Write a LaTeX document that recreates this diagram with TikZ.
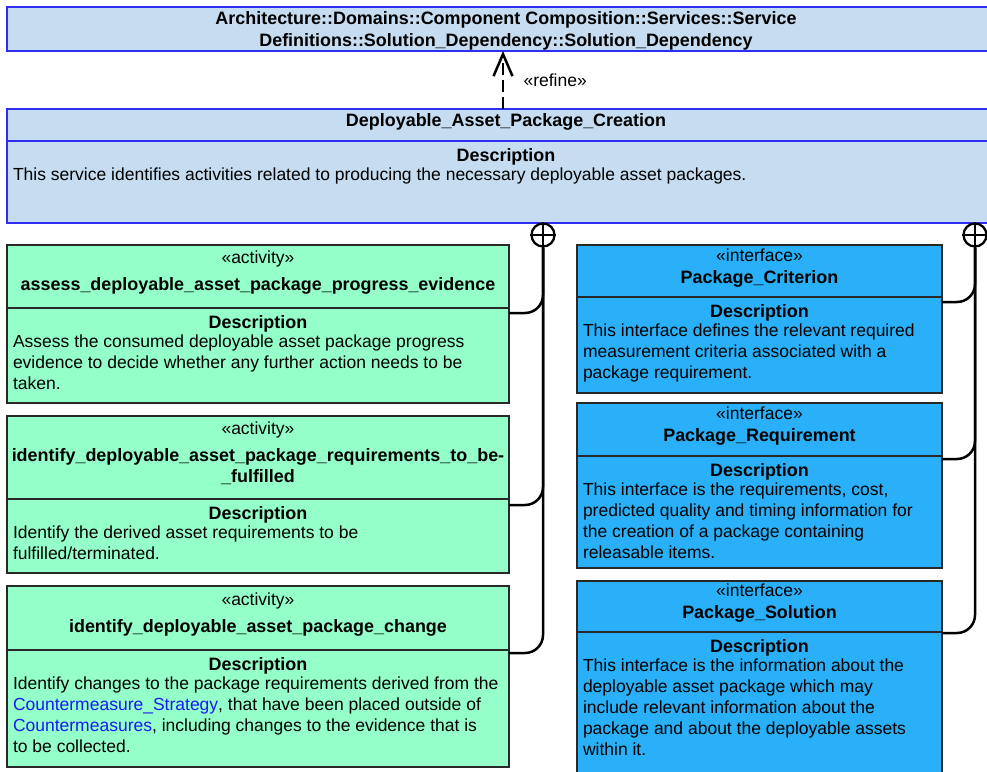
\documentclass[tikz,border=0pt]{standalone}
\usepackage{fontspec}
\setmainfont{Liberation Sans}[BoldFeatures={Scale=1.025}]
\usetikzlibrary{positioning,arrows.meta}

\definecolor{svcfill}{RGB}{198,220,240}
\definecolor{svcline}{RGB}{45,45,245}
\definecolor{actfill}{RGB}{148,255,200}
\definecolor{ifcfill}{RGB}{42,176,248}
\definecolor{boxline}{RGB}{40,40,40}
\definecolor{linkblue}{RGB}{25,25,245}

% description compartment: fixed height, heading centred, text flush left
\newcommand{\descbox}[3]{\parbox[c][#1][t]{#2}{\centering\rule{0pt}{20pt}\textbf{Description}\par
  \vspace{-1.5pt}\raggedright\leftskip=6pt\relax #3}}

\begin{document}
\begin{tikzpicture}[x=1pt, y=-1pt,
    every node/.style = {font=\fontsize{17.5}{21}\selectfont},
    umlbox/.style = {draw=boxline, line width=1.3pt, inner sep=0pt, outer sep=0pt, anchor=north west},
    svcbox/.style = {umlbox, draw=svcline, fill=svcfill},
    actbox/.style = {umlbox, fill=actfill},
    ifcbox/.style = {umlbox, fill=ifcfill},
    plus/.style = {draw, circle, line width=2.3pt, minimum size=23pt, inner sep=0pt},
    link/.style = {line width=2.5pt, rounded corners=18pt},
    refine/.style = {line width=2.5pt, dash pattern=on 12pt off 5pt,
      -{Straight Barb[length=22pt, width=19pt, line width=2.5pt]}}]
    \useasboundingbox[fill=white] (0,0) rectangle (987,771);

    % service blocks
    \node (sol) [svcbox] at (7,7) {\parbox[c][44pt][t]{998pt}{\centering\bfseries
        \rule{0pt}{17pt}Architecture::Domains::Component Composition::Services::Service\\[1pt]
        Definitions::Solution\_Dependency::Solution\_Dependency}};
    \node (dapc) [svcbox] at (7,109) {\parbox[c][32pt][t]{998pt}{\centering\bfseries
        \rule{0pt}{17pt}Deployable\_Asset\_Package\_Creation}};
    \node (dapcd) [svcbox, below = 0pt of dapc] {\descbox{82pt}{998pt}{%
        This service identifies activities related to producing the necessary deployable asset packages.}};
    \draw[refine] ([xshift=-3pt]dapc.north) -- node[right=16pt] {«refine»} ([xshift=-3pt]sol.south);

    % activities
    \node (a1) [actbox] at (7,245) {\parbox[c][63pt][t]{502pt}{\centering
        \rule{0pt}{18pt}«activity»\\[6pt]
        \textbf{assess\_deployable\_asset\_package\_progress\_evidence}}};
    \node (a1d) [actbox, below = 0pt of a1] {\descbox{95pt}{502pt}{%
        Assess the consumed deployable asset package progress\\
        evidence to decide whether any further action needs to be\\
        taken.}};
    \node (a2) [actbox, below = 13pt of a1d] {\parbox[c][83pt][t]{502pt}{\centering
        \rule{0pt}{18pt}«activity»\\[6pt]
        \textbf{identify\_deployable\_asset\_package\_requirements\_to\_be-}\\
        \textbf{\_fulfilled}}};
    \node (a2d) [actbox, below = 0pt of a2] {\descbox{74pt}{502pt}{%
        Identify the derived asset requirements to be\\
        fulfilled/terminated.}};
    \node (a3) [actbox, below = 13pt of a2d] {\parbox[c][64pt][t]{502pt}{\centering
        \rule{0pt}{19pt}«activity»\\[6pt]
        \textbf{identify\_deployable\_asset\_package\_change}}};
    \node (a3d) [actbox, below = 0pt of a3] {\descbox{117pt}{502pt}{%
        Identify changes to the package requirements derived from the\\
        \textcolor{linkblue}{Countermeasure\_Strategy}, that have been placed outside of\\
        \textcolor{linkblue}{Countermeasures}, including changes to the evidence that is\\
        to be collected.}};

    % interfaces
    \node (i1) [ifcbox] at (577,245) {\parbox[c][52pt][t]{365pt}{\centering
        \rule{0pt}{16pt}«interface»\\[1pt]
        \textbf{Package\_Criterion}}};
    \node (i1d) [ifcbox, below = 0pt of i1] {\descbox{96pt}{365pt}{%
        This interface defines the relevant required\\
        measurement criteria associated with a\\
        package requirement.}};
    \node (i2) [ifcbox, below = 10pt of i1d] {\parbox[c][53pt][t]{365pt}{\centering
        \rule{0pt}{16pt}«interface»\\[1pt]
        \textbf{Package\_Requirement}}};
    \node (i2d) [ifcbox, below = 0pt of i2] {\descbox{112pt}{365pt}{%
        This interface is the requirements, cost,\\
        predicted quality and timing information for\\
        the creation of a package containing\\
        releasable items.}};
    \node (i3) [ifcbox, below = 13pt of i2d] {\parbox[c][51pt][t]{365pt}{\centering
        \rule{0pt}{15pt}«interface»\\[1pt]
        \textbf{Package\_Solution}}};
    \node (i3d) [ifcbox, below = 0pt of i3] {\descbox{200pt}{365pt}{%
        This interface is the information about the\\
        deployable asset package which may\\
        include relevant information about the\\
        package and about the deployable assets\\
        within it.}};

    % containment
    \node (p1) [plus] at (543,235) {};
    \node (p2) [plus] at (975,235) {};
    \foreach \p in {p1,p2}
        \draw[line width=2.3pt] (\p.north) -- (\p.south) (\p.west) -- (\p.east);

    \draw[link] (p1.south) |- ([yshift=-3pt]a3d.north east);
    \draw[link] ([yshift=-5pt]a1d.north east) -| (p1.south);
    \draw[link] ([yshift=-6pt]a2d.north east) -| (p1.south);

    \draw[link] (p2.south) |- ([yshift=-1pt]i3d.north east);
    \draw[link] ([yshift=-5pt]i1d.north east) -| (p2.south);
    \draw[link] ([yshift=-3pt]i2d.north east) -| (p2.south);
\end{tikzpicture}
\end{document}
